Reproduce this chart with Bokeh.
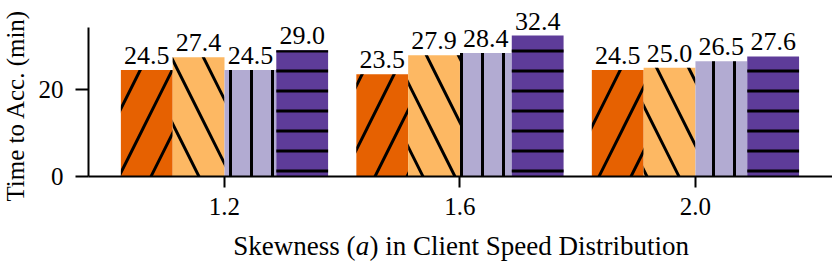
import math
from bokeh.plotting import figure
from bokeh.layouts import column, row
from bokeh.models import ColumnDataSource, Range1d, FixedTicker, LabelSet, Label
from bokeh.embed import file_html
from bokeh.resources import INLINE

# ---- data ----
skewness = ["1.2", "1.6", "2.0"]
times_a = [24.5, 23.5, 24.5]
times_b = [27.4, 27.9, 25.0]
times_c = [24.5, 28.4, 26.5]
times_d = [29.0, 32.4, 27.6]
y_ticks = [0, 20]

series = [times_a, times_b, times_c, times_d]
colors = ["#e66101", "#fdb863", "#b2abd2", "#5e3c99"]
hatches = ["/", "\\", "|", "-"]
hatch_scales = [64, 64, 21, 20]
bar_w = 0.22
offsets = [-1.5 * bar_w, -0.5 * bar_w, 0.5 * bar_w, 1.5 * bar_w]

FONT = "Liberation Serif"
W, H = 832, 264
YSTRIP_W = 30
MAIN_H = 228
FRAME_L = 88      # page x of the y axis
FRAME_B = 176     # page y of the x axis


def blank(width, height, left=0):
    f = figure(width=width, height=height, output_backend="svg",
               toolbar_location=None, x_axis_location=None,
               y_axis_location=None, x_range=Range1d(0, 1),
               y_range=Range1d(0, 1), min_border_left=left, min_border_right=0,
               min_border_top=0, min_border_bottom=0)
    f.grid.visible = False
    f.outline_line_color = None
    f.background_fill_color = "white"
    f.border_fill_color = "white"
    return f


p = figure(width=W - YSTRIP_W, height=MAIN_H, output_backend="svg",
           toolbar_location=None,
           x_range=Range1d(-0.5775, 2.582), y_range=Range1d(0, 40.46),
           min_border_left=FRAME_L - YSTRIP_W, min_border_right=0,
           min_border_top=0, min_border_bottom=MAIN_H - FRAME_B)
p.outline_line_color = None
p.xgrid.visible = False
p.ygrid.visible = False
p.background_fill_color = "white"
p.border_fill_color = "white"

for vals, col, hp, hs, off in zip(series, colors, hatches, hatch_scales, offsets):
    src = ColumnDataSource(dict(
        x=[i + off for i in range(len(skewness))],
        top=vals,
        label=[f"{v:.1f}" for v in vals],
    ))
    p.vbar(x="x", top="top", width=bar_w, source=src, fill_color=col,
           line_color=None, hatch_pattern=hp, hatch_color="black",
           hatch_weight=3, hatch_scale=hs)
    p.add_layout(LabelSet(x="x", y="top", text="label", source=src,
                          text_align="center", text_baseline="alphabetic",
                          y_offset=6, text_font=FONT, text_font_size="26px",
                          text_color="black"))

for ax in (p.xaxis[0], p.yaxis[0]):
    ax.axis_line_color = "black"
    ax.axis_line_width = 2
    ax.major_tick_line_color = "black"
    ax.major_tick_line_width = 2
    ax.major_tick_in = 0
    ax.minor_tick_line_color = None
    ax.major_label_text_font = FONT
    ax.major_label_text_font_size = "25px"
    ax.major_label_text_color = "black"

p.xaxis.ticker = FixedTicker(ticks=list(range(len(skewness))))
p.xaxis.major_label_overrides = {i: s for i, s in enumerate(skewness)}
p.xaxis.major_tick_out = 11
p.xaxis.major_label_standoff = 10

p.yaxis.ticker = FixedTicker(ticks=y_ticks)
p.yaxis.bounds = (0, 34.25)
p.yaxis.major_tick_out = 13
p.yaxis.major_label_standoff = 12

# y-axis title strip (full height)
ys = blank(YSTRIP_W, H)
ys.add_layout(Label(x=15, y=H - 105, x_units="screen", y_units="screen",
                    text="Time to Acc. (min)", angle=math.pi / 2,
                    text_align="center", text_baseline="alphabetic",
                    text_font=FONT, text_font_size="25px",
                    text_color="black"))

# x-axis title strip (with italic "a"); frame starts at the y axis
t = blank(W - YSTRIP_W, H - MAIN_H, left=FRAME_L - YSTRIP_W)
common = dict(y=19, x_units="screen", y_units="screen", text_font=FONT,
              text_font_size="27px", text_color="black",
              text_baseline="alphabetic")
a_x = 362 - FRAME_L
t.add_layout(Label(x=a_x - 7, text="Skewness (", text_align="right", **common))
t.add_layout(Label(x=a_x, text="a", text_align="center",
                   text_font_style="italic", **common))
t.add_layout(Label(x=a_x + 7, text=") in Client Speed Distribution",
                   text_align="left", **common))

layout = row(ys, column(p, t, spacing=0), spacing=0)
open("out.html", "w").write(file_html(layout, INLINE))
